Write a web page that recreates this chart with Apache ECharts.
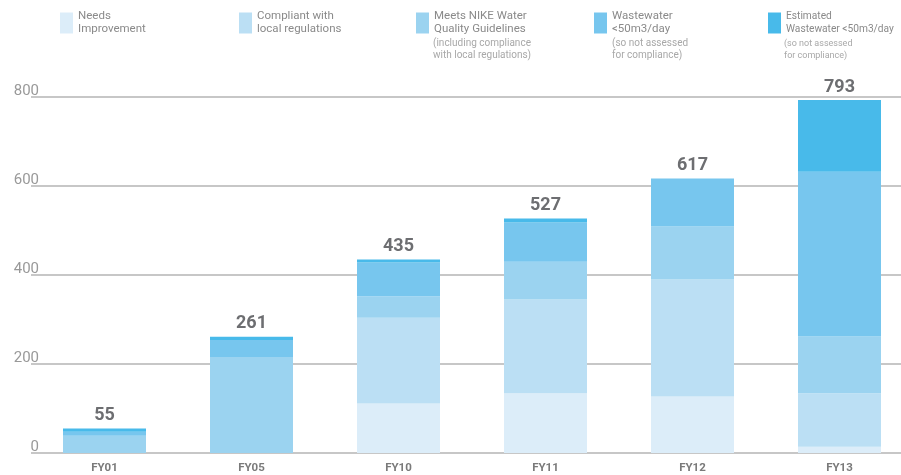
<!DOCTYPE html>
<html>
<head>
<meta charset="utf-8">
<title>Wastewater chart</title>
<script src="https://cdn.jsdelivr.net/npm/echarts@6/dist/echarts.min.js"></script>
<style>
  html, body {
    margin: 0;
    padding: 0;
    background: #fff;
  }
  #waterChart {
    width: 901px;
    height: 475px;
  }
</style>
</head>
<body>
<div id="waterChart"></div>
<script>
// data
const categories = ['FY01', 'FY05', 'FY10', 'FY11', 'FY12', 'FY13'];
const needsImprovement = [0, 0, 111, 134, 127, 14];
const compliantLocal = [0, 0, 193, 211, 263, 120];
const meetsNike = [39, 216, 48, 85, 119, 128];
const wastewater = [9, 38, 76, 88, 108, 370];
const estimatedWastewater = [7, 7, 7, 9, 0, 161];
const totals = [55, 261, 435, 527, 617, 793];
const yTicks = [0, 200, 400, 600, 800];

const seriesNames = [
  'Needs\nImprovement',
  'Compliant with\nlocal regulations',
  'Meets NIKE Water\nQuality Guidelines',
  'Wastewater\n<50m3/day',
  'Estimated\nWastewater <50m3/day'
];
const seriesColors = ['#dcedf9', '#bbdff4', '#9bd3f0', '#77c6ee', '#48baea'];
const seriesData = [needsImprovement, compliantLocal, meetsNike, wastewater, estimatedWastewater];
const legendLeft = [60, 239, 416, 594, 768];
const legendFont = [11.5, 11.5, 11.5, 11.5, 10.2];

let chart = echarts.init(document.getElementById('waterChart'), null, {renderer: 'canvas'});

// one legend per item so each can sit at its own x
let legends = seriesNames.map((name, i) => ({
  data: [name],
  left: legendLeft[i],
  top: 10,
  padding: 0,
  itemWidth: 13,
  itemHeight: 21,
  icon: 'rect',
  selectedMode: false,
  textStyle: {
    color: '#8a8a8a',
    fontSize: legendFont[i],
    lineHeight: 13,
    fontFamily: 'Roboto, sans-serif'
  }
}));

let series = seriesNames.map((name, i) => ({
  name: name,
  type: 'bar',
  stack: 'total',
  barWidth: 83,
  itemStyle: {color: seriesColors[i]},
  emphasis: {disabled: true},
  data: seriesData[i]
}));

// totals above the stacks
series[series.length - 1].label = {
  show: true,
  position: 'top',
  distance: 4,
  formatter: p => totals[p.dataIndex],
  color: '#6d6e71',
  fontSize: 18,
  fontWeight: 'bold',
  fontFamily: 'Roboto, sans-serif'
};

let option = {
  animation: false,
  legend: legends,
  grid: {
    left: 31,
    right: -12,
    top: 97,
    bottom: 22,
    outerBoundsMode: 'none',
    containLabel: false
  },
  xAxis: {
    type: 'category',
    data: categories,
    axisLine: {show: false},
    axisTick: {show: false},
    axisLabel: {
      margin: 9,
      color: '#7a7a7a',
      fontSize: 11.5,
      fontWeight: 'bold',
      fontFamily: 'Roboto, sans-serif'
    }
  },
  yAxis: {
    type: 'value',
    min: yTicks[0],
    max: yTicks[yTicks.length - 1],
    interval: 200,
    axisLine: {show: false},
    axisTick: {show: false},
    axisLabel: {
      inside: true,
      margin: 8,
      align: 'right',
      verticalAlign: 'bottom',
      lineHeight: 12,
      color: '#999',
      fontSize: 15,
      fontFamily: 'Roboto, sans-serif'
    },
    splitLine: {
      lineStyle: {color: '#b5b5b5', width: 1.5}
    }
  },
  graphic: [
    {
      type: 'text', left: 433, top: 37,
      style: {text: '(including compliance\nwith local regulations)', fill: '#a8a8a8', fontSize: 10, lineHeight: 12, fontFamily: 'Roboto, sans-serif'}
    },
    {
      type: 'text', left: 612, top: 37,
      style: {text: '(so not assessed\nfor compliance)', fill: '#a8a8a8', fontSize: 10, lineHeight: 12, fontFamily: 'Roboto, sans-serif'}
    },
    {
      type: 'text', left: 784, top: 38,
      style: {text: '(so not assessed\nfor compliance)', fill: '#a8a8a8', fontSize: 9, lineHeight: 12, fontFamily: 'Roboto, sans-serif'}
    }
  ],
  series: series
};

chart.setOption(option);
</script>
</body>
</html>
